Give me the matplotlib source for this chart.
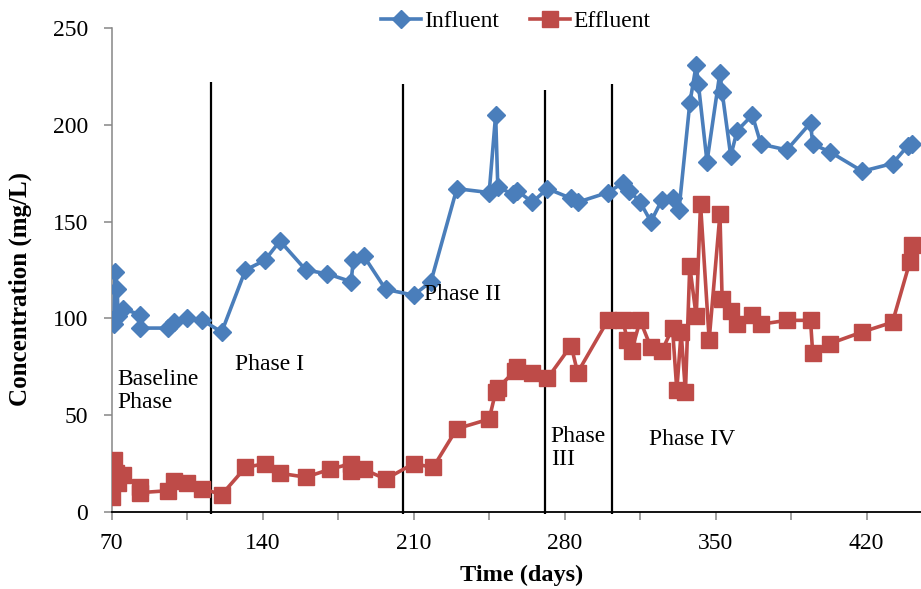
import matplotlib

matplotlib.use("Agg")
import matplotlib.pyplot as plt

plt.rcParams["font.family"] = ["Liberation Serif", "DejaVu Serif"]

# Sampling days and concentrations (mg/L)
influent_days = [70, 71, 71.5, 72.5, 73, 75, 83, 83, 96, 99, 105, 112, 121,
                 132, 141, 148, 160, 170, 181, 182, 187, 197, 210, 218, 230,
                 245, 248, 249, 256, 258, 265, 272, 283, 286, 300, 307, 310,
                 315, 320, 325, 330, 333, 338, 341, 342, 346, 352, 353, 357,
                 360, 367, 371, 383, 394, 395, 403, 418, 432, 439, 441]
influent_conc = [99, 97, 124, 115, 101, 105, 102, 95, 95, 98, 100, 99, 93,
                 125, 130, 140, 125, 123, 119, 130, 132, 115, 112, 119, 167,
                 165, 205, 168, 164, 166, 160, 167, 162, 160, 165, 170, 166,
                 160, 150, 161, 162, 156, 211, 231, 221, 181, 227, 217, 184,
                 197, 205, 190, 187, 201, 190, 186, 176, 180, 189, 190]

effluent_days = [70, 70, 71, 72, 73, 75, 83, 83, 96, 99, 105, 112, 121,
                 132, 141, 148, 160, 171, 181, 181, 187, 197, 210, 219, 230,
                 245, 248, 249, 257, 258, 265, 272, 283, 286, 300, 307, 309,
                 311, 315, 320, 325, 330, 332, 334, 336, 338, 341, 343, 347,
                 352, 353, 357, 360, 367, 371, 383, 394, 395, 403, 418, 432,
                 440, 441]
effluent_conc = [8, 18, 27, 20, 15, 19, 13, 10, 11, 16, 15, 12, 9,
                 23, 25, 20, 18, 22, 25, 21, 22, 17, 25, 23, 43,
                 48, 62, 64, 73, 75, 72, 69, 86, 72, 99, 99, 89,
                 83, 99, 85, 83, 95, 63, 93, 62, 127, 101, 159, 89,
                 154, 110, 104, 97, 102, 97, 99, 99, 82, 87, 93, 98,
                 129, 138]

# Phase boundaries (day, height of the divider line)
phase_days = [116, 205, 271, 302]
phase_tops = [222, 221, 218, 221]

phase_labels = ["Baseline\nPhase", "Phase I", "Phase II", "Phase\nIII", "Phase IV"]
phase_label_x = [72.8, 127.2, 214.8, 273.6, 319.2]
phase_label_y = [62.5, 76, 112.6, 33, 37.5]

x_ticks = list(range(70, 446, 35))
y_ticks = [0, 50, 100, 150, 200, 250]

blue = "#4A7EBB"
red = "#BE4B48"

fig = plt.figure(figsize=(9.21, 5.89), dpi=100)
ax = fig.add_axes([0.1213, 0.1307, 0.8782, 0.8218])

ax.plot(influent_days, influent_conc, color=blue, lw=2.6, marker="D",
        markersize=9.5, label="Influent", zorder=3)
ax.plot(effluent_days, effluent_conc, color=red, lw=2.6, marker="s",
        markersize=11, label="Effluent", zorder=3)

ax.vlines(phase_days, -1, phase_tops, colors="black", lw=1.6, zorder=2,
          clip_on=False)

for label, x, y in zip(phase_labels, phase_label_x, phase_label_y):
    ax.text(x, y, label, fontsize=17, ha="left", va="center",
            linespacing=1.15, zorder=4)

ax.set_xlim(70, 445)
ax.set_ylim(0, 250)
ax.set_xticks(x_ticks)
ax.set_xticklabels([str(t) if (t - 70) % 70 == 0 else "" for t in x_ticks])
ax.set_yticks(y_ticks)
ax.tick_params(axis="both", labelsize=17, direction="out", length=6,
               width=1.1, color="#868686")
ax.tick_params(axis="x", pad=9)
ax.tick_params(axis="y", pad=11)

for side in ("top", "right"):
    ax.spines[side].set_visible(False)
ax.spines["left"].set_color("#868686")
ax.spines["bottom"].set_color("black")
ax.spines["left"].set_linewidth(1.1)
ax.spines["bottom"].set_linewidth(1.3)

ax.set_xlabel("Time (days)", fontsize=17.5, fontweight="bold")
ax.set_ylabel("Concentration (mg/L)", fontsize=18, fontweight="bold")
ax.xaxis.set_label_coords(0.507, -0.11)
ax.yaxis.set_label_coords(-0.098, 0.46)

fig.legend(loc="center", bbox_to_anchor=(0.56, 0.964), ncol=2, frameon=False,
           fontsize=17, handlelength=1.7, handletextpad=0.15,
           columnspacing=1.3, borderaxespad=0)

fig.savefig("out.png", dpi=100)
